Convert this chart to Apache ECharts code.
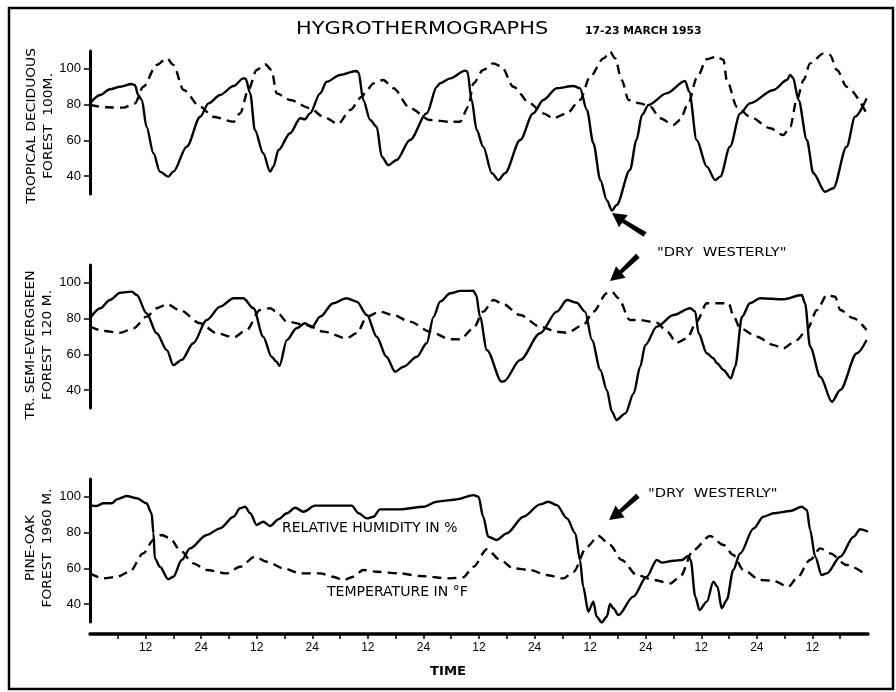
<!DOCTYPE html>
<html>
<head>
<meta charset="utf-8">
<script src="https://cdn.jsdelivr.net/npm/echarts@6/dist/echarts.min.js"></script>
<style>
  html, body { margin: 0; background: #fff; }
  #chart { width: 896px; height: 692px; }
</style>
</head>
<body>
<div id="chart"></div>
<script>
// hours from start of 17 March
const tropHumidity = [[0,80.7],[2.2,85.4],[4.3,88.6],[6.5,90],[9,91.5],[9.7,91],[10.4,85.4],[11.2,82.6],[12.2,67.6],[13.7,52.8],[15.1,42.5],[16.9,39.7],[18,42.5],[20.9,56.5],[23.8,73.2],[25.6,80.7],[28.1,85.4],[31,90.4],[33.1,94.7],[33.6,94.5],[34.6,86.3],[35.6,65.8],[37.4,52.8],[38.9,42.5],[39.6,45.3],[40.7,54.6],[43.2,64],[45.4,72.4],[46.4,71.8],[47.5,75.1],[49.7,86.3],[51.1,92.8],[54,96.6],[57.5,98.8],[58,98],[59,82.6],[60.5,71.4],[61.9,67.6],[63,50.9],[64.4,46.2],[66.2,49],[69.1,60.2],[72.7,75.1],[74.9,90],[75.6,92],[77.8,94.7],[81,99],[81.5,98.5],[82.4,82.6],[83.5,65.8],[84.9,56.5],[86.8,41.6],[88.2,37.8],[89.6,41.6],[92.9,60.2],[95.7,75.1],[97.9,82.6],[100.8,89.2],[104.4,90.4],[105.8,89.2],[107.3,77],[108.7,58.4],[110.2,37.8],[111.6,26.6],[112.7,20.7],[113.7,23.8],[116.6,43.4],[118,60.2],[119.2,74.2],[120.6,79.8],[124.5,86.3],[128.5,93.2],[129.4,87.2],[131,60.2],[133.2,45.3],[135,37.8],[136.1,39.7],[138.2,56.5],[140.4,75.1],[142.5,80.7],[147.6,88.2],[150.5,93.8],[151.2,96.6],[151.8,95],[153,82.6],[154.8,60.2],[156.2,41.6],[158.7,31.3],[160.5,33.2],[163.4,56.5],[165.2,73.2],[167.7,83.5]];
const tropTemp = [[0,79.8],[3.6,78.5],[7.2,78.3],[9.7,80.7],[11.5,90],[14.4,102.2],[16.6,105.9],[18,102.2],[20.2,88.2],[23.8,78.8],[26.6,73.2],[31,70.4],[32.4,75.1],[34.2,88.2],[36,99.4],[37.8,102.6],[39.2,99.4],[40.3,86.3],[43.2,82.6],[47.5,78],[50.4,73.2],[53.6,69.2],[56.2,77],[58.7,84.4],[59.8,88.2],[61.2,91.9],[63.3,93.8],[65.5,89.2],[69.1,78],[73.4,71.4],[77.8,70.4],[79.9,70.4],[81.7,78.8],[82.8,91.9],[84.9,99.4],[87.1,103.1],[88.9,101.2],[91.4,90],[95,80.7],[97.9,75.1],[100,72.4],[103,75.1],[105.8,82.6],[108,95.6],[110.9,105.9],[112.3,109.6],[113.4,105.9],[114.8,93.8],[116.3,82.6],[118.8,80.7],[121,78.8],[123.1,72.4],[126,68.6],[127.4,71.4],[129.2,80.7],[131,94.7],[133.2,105.4],[135.3,106.8],[136.8,105],[137.5,93.8],[139.7,78.8],[142.5,73.2],[146.9,66.8],[149.7,63],[151.2,67.6],[152.6,82.6],[154.1,93.8],[155.5,103.1],[158.4,108.7],[159.8,107.8],[161.3,99.4],[163.4,90],[167.7,75.1]];

const semiHumidity = [[0,80.2],[2.2,85.8],[4.3,90.4],[6.5,94.5],[9,95.1],[10.1,93.2],[12.2,83],[14.4,71.8],[16.6,62.4],[18,54],[19.8,56.9],[22.3,66.2],[25.2,79.2],[28.1,86.7],[31,91.4],[33.1,91.4],[35.3,85.8],[37.4,69.9],[39.2,58.7],[40.3,55.9],[40.9,53.5],[42.5,68],[44.6,74.6],[46.4,77.4],[47.9,75.1],[49.7,81.1],[52.5,88.6],[55.4,91.4],[57.6,89.5],[59.8,82],[61.9,69.9],[64,58.7],[65.9,50.3],[67.7,53.1],[70.6,58.7],[72.7,66.2],[74.2,81.1],[75.6,89.5],[77.8,94.2],[80,95.5],[82.8,95.6],[83.4,93.2],[84.2,81.1],[85.7,62.4],[88.9,44.7],[89.4,45],[92.9,56.9],[97.2,71.8],[100.8,83.9],[103,90.4],[105.1,88.9],[106.9,83.9],[108.4,68],[110.2,51.3],[111.6,40.1],[112.7,27.9],[113.7,23.3],[115.6,27],[117.4,38.2],[118.8,53.1],[119.9,65.2],[122.4,75.5],[126,82],[129.6,85.8],[130.7,83.9],[131.4,71.8],[133.2,60.6],[134.6,57.8],[135.4,55],[136.8,51.3],[138.4,46.6],[139.3,53.1],[140.8,81.1],[142.5,88.6],[144.7,91.4],[149.7,90.8],[153.7,93.2],[154.4,88.6],[155.5,64.3],[157.7,47.5],[160.2,33.5],[162,40.1],[165.6,60.6],[167.7,68]];
const semiTemp = [[0,75.5],[2.9,73.1],[6.5,72.1],[9.4,74.6],[12.2,81.1],[14.4,85.8],[16.6,88],[19.4,84.8],[23.8,77.4],[27.4,71.8],[31,69.5],[33.8,73.6],[36.7,84.8],[38.9,85.8],[40.3,83.9],[42.5,78.3],[46.8,76.4],[50.4,72.7],[55.4,69],[57.6,71.8],[59.8,81.1],[62.6,83.9],[65.5,82],[69.1,78.3],[73.4,72.7],[77.8,68.5],[79.9,68.4],[82.8,74.6],[84.9,83.9],[87.1,90.4],[88.9,88.6],[92.9,82],[97.2,75.5],[100.8,72.7],[103,72.1],[106.5,76.4],[108.7,83.9],[111.6,94.2],[112.7,95.1],[114.1,91.4],[116.6,79.2],[118.8,79.2],[122.4,77.7],[124.6,72.7],[126.7,66.5],[128.9,69],[131,78.3],[133.2,88.6],[135.3,88.6],[137.9,88.6],[139,81.1],[140.4,74.6],[144,69.9],[147.6,65.2],[149.7,63.4],[152.6,68],[154.8,73.6],[157,84.8],[159.1,93.2],[160.9,92.3],[162,84.8],[164.9,80.2],[167.7,73.6]];

const pineHumidity = [[0,95.4],[1.4,94.9],[2.9,96.4],[4.7,96.4],[5.8,98.6],[7.9,100.5],[10.1,99.2],[12.2,96.4],[13.3,90.8],[13.7,79.6],[14,65.6],[15.1,60.9],[16.9,53.9],[18,55.3],[19.8,64.7],[21.6,71.2],[25.2,78.7],[28.1,82.4],[31,88.9],[32.4,93.6],[33.5,94.5],[34.6,90.8],[36,84.3],[37.4,86.1],[38.9,83.7],[40.7,87.5],[42.5,90.8],[44.3,93.9],[46.1,91.7],[48.6,95.1],[52.5,95.1],[56.5,95.1],[58,90.8],[59.8,88],[61.2,88.9],[62.6,93],[67,93],[72,94.5],[74.9,97.3],[77.8,98.2],[79.2,98.6],[82.8,101],[83.9,100.1],[84.9,88.9],[86,77.7],[87.8,75.9],[90,79.6],[93.6,88.9],[97.2,95.8],[99,97.3],[100.8,95.4],[103,88],[104.8,79.6],[105.8,64.7],[106.5,49.7],[107.6,35.8],[108.7,41.4],[109.4,33],[110.5,29.8],[111.6,33],[112.3,40.1],[113,37.7],[114.1,33.9],[117.3,44.2],[120.2,55.3],[122.4,64.7],[123.5,63.2],[126,64.3],[127.8,64.7],[129.2,66.9],[129.7,64.7],[130.7,44.2],[131.6,36.7],[133.2,41.4],[134.6,52.5],[135.5,49.7],[136.4,37.7],[137.5,42.3],[138.9,59.1],[140.4,68.4],[143.3,82.4],[145.4,88.9],[147.6,90.8],[151.2,92.1],[153.7,94.5],[154.8,92.7],[155.5,81.5],[156.6,66.5],[158,56.3],[159.1,57.2],[162,66.5],[164.9,77.7],[166.3,81.9],[168,80.5]];
const pineTemp = [[0,57.2],[2.9,54.4],[5.8,55.3],[8.6,58.1],[11.5,68.4],[13.7,75.9],[15.5,78.7],[17.3,76.8],[19.4,70.3],[22.3,62.8],[25.2,59.1],[29.5,57.2],[32.4,60.9],[35.6,66.5],[38.2,63.7],[41.8,60],[45.4,57.2],[49.7,57.2],[52.5,55.3],[54.7,53.5],[56.9,55.3],[59,59.1],[61.9,58.1],[67,57.2],[71.3,55.7],[77.8,54.4],[80.6,55],[82.8,60.9],[85.7,70.7],[88.6,64.7],[91.4,60],[95,59.1],[98.6,56.3],[102.2,54.4],[104.4,58.1],[107.3,72.1],[109.8,78.1],[112.3,73.1],[114.8,64.7],[118.1,56.3],[121.7,53.5],[125.3,51.6],[127.4,55.3],[130.3,70.3],[133.9,78.1],[136.8,73.1],[138.9,67.5],[141.1,59.1],[144.7,53.5],[147.6,53.1],[150.8,49.7],[152.6,54.4],[155.5,64.7],[157.7,71.2],[159.8,68.4],[163.4,61.9],[167.7,56.3]];

const panelNames = ['TROPICAL DECIDUOUS\nFOREST  100M.', 'TR. SEMI-EVERGREEN\nFOREST  120 M.', 'PINE-OAK\nFOREST  1960 M.'];
const yTicks = [40, 60, 80, 100];
const hourTicks = [6,12,18,24,30,36,42,48,54,60,66,72,78,84,90,96,102,108,114,120,126,132,138,144,150,156,162];
const hourLabels = [12,24,36,48,60,72,84,96,108,120,132,144,156];

const FONT = 'DejaVu Sans';
const gridTops = [51, 265, 479];

const chart = echarts.init(document.getElementById('chart'));

function yAxisFor(i) {
    return {
        type: 'value', gridIndex: i, min: 30, max: 110,
        axisLine: { show: true, lineStyle: { color: '#000', width: 3 } },
        axisTick: { show: true, length: 6, customValues: yTicks, lineStyle: { color: '#000', width: 1.5 } },
        axisLabel: { customValues: yTicks, margin: 9, fontFamily: 'Liberation Sans', fontSize: 13, color: '#000' },
        splitLine: { show: false }
    };
}

function xAxisFor(i) {
    const bottom = i === 2;
    return {
        type: 'value', gridIndex: i, min: 0, max: 168, show: bottom,
        offset: 12,
        axisLine: { show: true, lineStyle: { color: '#000', width: 3.5 } },
        axisTick: { show: true, length: 5, customValues: hourTicks, lineStyle: { color: '#000', width: 1.5 } },
        axisLabel: {
            customValues: hourLabels, margin: 8, fontFamily: 'Liberation Sans', fontSize: 12, color: '#000',
            formatter: v => (v % 24 === 0 ? '24' : '12')
        },
        splitLine: { show: false }
    };
}

function trace(data, i, dashed) {
    return {
        type: 'line', xAxisIndex: i, yAxisIndex: i, data: data,
        showSymbol: false, smooth: 0.3, smoothMonotone: 'x', clip: false,
        lineStyle: { color: '#000', width: 2.4, type: dashed ? [9, 6] : 'solid' },
        silent: true
    };
}

// thick arrow as a polygon: wedge tail + head
function arrow(tail, tip) {
    const dx = tip[0] - tail[0], dy = tip[1] - tail[1];
    const len = Math.sqrt(dx * dx + dy * dy);
    const ux = dx / len, uy = dy / len, nx = -uy, ny = ux;
    const headLen = 14, headW = 7.5;
    const bx = tip[0] - ux * headLen, by = tip[1] - uy * headLen;
    return {
        type: 'polygon',
        shape: { points: [
            tip,
            [bx + nx * headW, by + ny * headW],
            [bx + nx * 2, by + ny * 2],
            [tail[0] + nx * 4.5, tail[1] + ny * 4.5],
            [tail[0] - nx * 1, tail[1] - ny * 1],
            [bx - nx * 2, by - ny * 2],
            [bx - nx * headW, by - ny * headW]
        ] },
        style: { fill: '#000' }
    };
}

function label(text, x, y, size, opts) {
    opts = opts || {};
    return {
        type: 'text', x: x, y: y, scaleX: opts.scaleX || 1, rotation: opts.rotation || 0,
        style: {
            text: text, fontFamily: FONT, fontSize: size, fontWeight: opts.weight || 'normal',
            fill: '#000', align: opts.align || 'left', verticalAlign: 'middle', lineHeight: opts.lineHeight
        }
    };
}

const panelLabelPos = [[40, 126], [39, 345], [39, 548]];

const option = {
    animation: false,
    backgroundColor: '#fff',
    grid: gridTops.map(t => ({ left: 90, top: t, width: 778, height: 143 })),
    xAxis: [0, 1, 2].map(xAxisFor),
    yAxis: [0, 1, 2].map(yAxisFor),
    series: [
        trace(tropHumidity, 0, false), trace(tropTemp, 0, true),
        trace(semiHumidity, 1, false), trace(semiTemp, 1, true),
        trace(pineHumidity, 2, false), trace(pineTemp, 2, true)
    ],
    graphic: [
        { type: 'rect', shape: { x: 9, y: 8, width: 884, height: 681 }, style: { fill: null, stroke: '#000', lineWidth: 2.5 } },
        label('HYGROTHERMOGRAPHS', 296, 30, 17, { scaleX: 1.23 }),
        label('17-23 MARCH 1953', 585, 31, 10, { scaleX: 1.08, weight: 'bold' }),
        label('"DRY  WESTERLY"', 657, 253, 11.5, { scaleX: 1.28 }),
        label('"DRY  WESTERLY"', 648, 494, 11.5, { scaleX: 1.28 }),
        label('RELATIVE HUMIDITY IN %', 282, 528, 13.5, { scaleX: 1.03 }),
        label('TEMPERATURE IN \u00B0F', 327, 592, 13.5, { scaleX: 1.04 }),
        label('TIME', 430, 672, 12, { scaleX: 1.1, weight: 'bold' })
    ].concat(panelNames.map((n, i) => label(n, panelLabelPos[i][0], panelLabelPos[i][1], 12,
        { rotation: Math.PI / 2, align: 'center', scaleX: 1.15, lineHeight: 17 })))
     .concat([
        arrow([644, 236], [612, 213]),
        arrow([639, 257], [610, 281]),
        arrow([639, 497], [609, 520])
    ])
};

chart.setOption(option);
</script>
</body>
</html>
